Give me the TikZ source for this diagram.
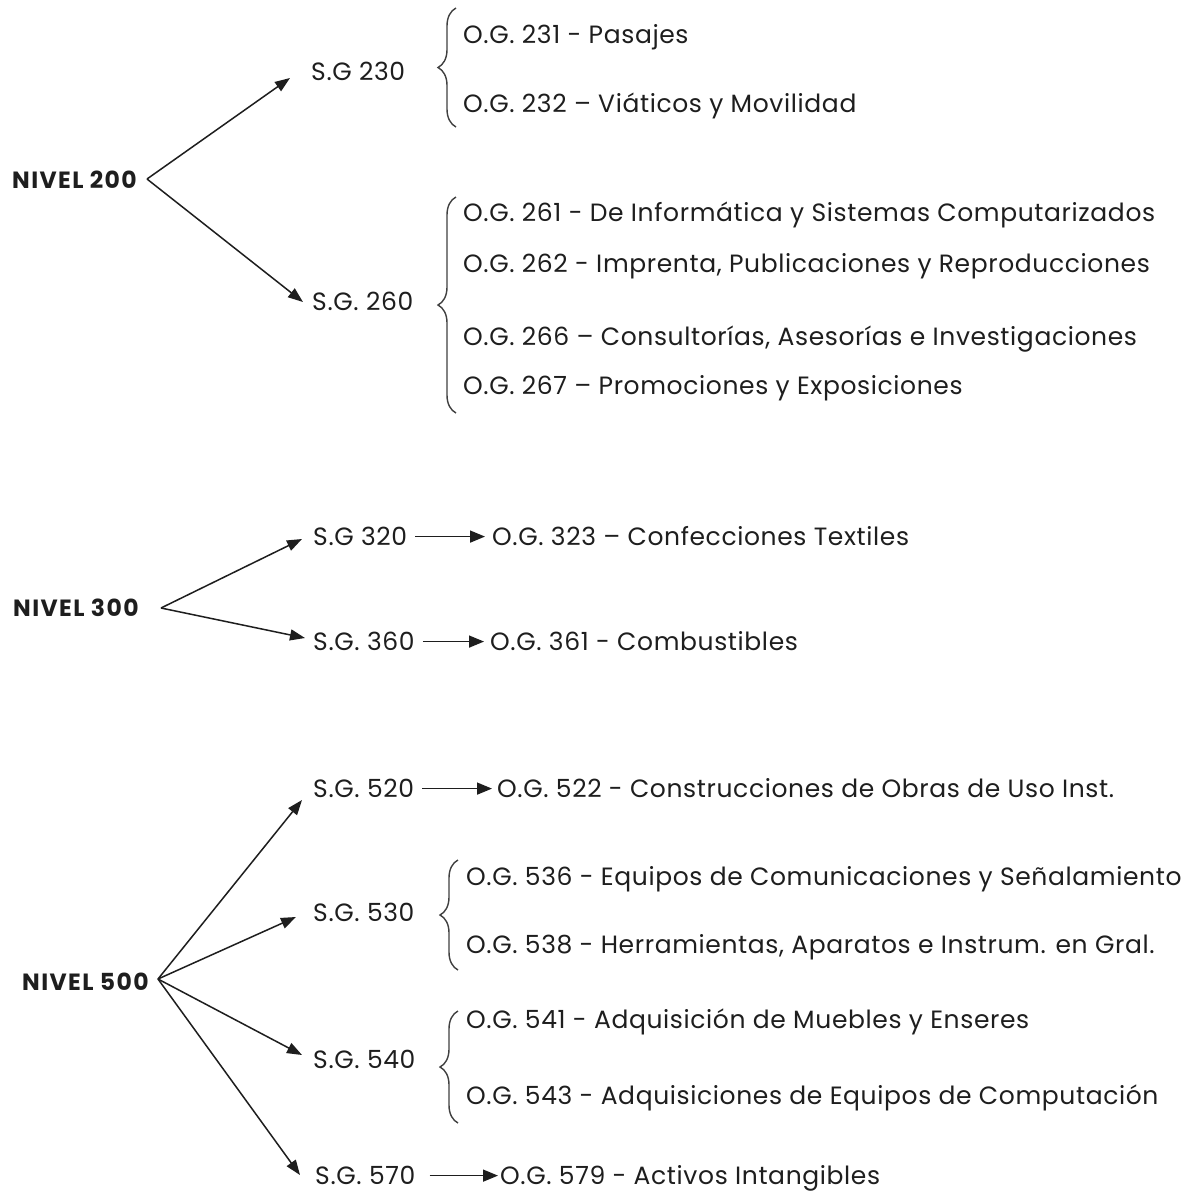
\documentclass[tikz,border=0pt]{standalone}
\usepackage{fontspec}
\setmainfont{Poppins}[LetterSpace=2.5]
\newfontfamily\nivfont{Poppins}[LetterSpace=6]
\usetikzlibrary{arrows.meta,decorations.pathreplacing}
\definecolor{ink}{HTML}{1E1E1E}
\newcommand{\itemfont}{\fontsize{25}{29}\selectfont}
\begin{document}
\begin{tikzpicture}[x=1pt,y=-1pt,
  item/.style={anchor=base west,yshift=-8.7pt,inner sep=0pt,text=ink,font=\itemfont},
  sg/.style={anchor=base west,yshift=-8.7pt,inner sep=0pt,text=ink,font=\itemfont},
  nivel/.style={anchor=base west,yshift=-8.2pt,inner sep=0pt,text=ink,font=\nivfont\bfseries\fontsize{23.5}{27}\selectfont},
  conn/.style={draw=ink,line width=1.5pt,-{Triangle[length=15pt,width=11pt]}},
  hconn/.style={draw=ink,line width=1.5pt,-{Triangle[length=15pt,width=12pt]}},
  brc/.style={draw=ink!85,decorate,decoration={brace,amplitude=18pt},line width=1.4pt}]
\useasboundingbox[fill=white] (0,0) rectangle (1192,1195);

% ---------- NIVEL 200 ----------
\node[nivel] (n200) at (12,180) {NIVEL 200};
\coordinate (o200) at (147,179);
\node[sg] (s230) at (311,72) {S.G 230};
\node[sg] (s260) at (312,302) {S.G. 260};
\coordinate (t230) at (290,78);
\coordinate (t260) at (303,302);
\draw[conn] (o200) -- (t230);
\draw[conn] (o200) -- (t260);

\draw[brc] (456,127) -- (456,8);
\node[item] (g231) at (463,35) {O.G. 231 - Pasajes};
\node[item] (g232) at (463,104) {O.G. 232 – Viáticos y Movilidad};

\draw[brc] (456,413) -- (456,197);
\node[item] (g261) at (463,213) {O.G. 261 - De Informática y Sistemas Computarizados};
\node[item] (g262) at (463,264) {O.G. 262 - Imprenta, Publicaciones y Reproducciones};
\node[item] (g266) at (463,337) {O.G. 266 – Consultorías, Asesorías e Investigaciones};
\node[item] (g267) at (463,386) {O.G. 267 – Promociones y Exposiciones};

% ---------- NIVEL 300 ----------
\node[nivel] (n300) at (13,608) {NIVEL 300};
\coordinate (o300) at (161,608);
\node[sg] (s320) at (313,537) {S.G 320};
\node[sg] (s360) at (313,642) {S.G. 360};
\coordinate (t320) at (302,539);
\coordinate (t360) at (305,638);
\draw[conn] (o300) -- (t320);
\draw[conn] (o300) -- (t360);
\node[item] (g323) at (492,537) {O.G. 323 – Confecciones Textiles};
\node[item] (g361) at (490,642) {O.G. 361 - Combustibles};
\draw[hconn] ([xshift=8pt]s320.east) -- ([xshift=-7pt]s320.east -| g323.west);
\draw[hconn] ([xshift=8pt]s360.east) -- ([xshift=-6pt]s360.east -| g361.west);

% ---------- NIVEL 500 ----------
\node[nivel] (n500) at (22,982) {NIVEL 500};
\coordinate (o500) at (158,979);
\node[sg] (s520) at (313,789) {S.G. 520};
\node[sg] (s530) at (313,913) {S.G. 530};
\node[sg] (s540) at (313,1060) {S.G. 540};
\node[sg] (s570) at (315,1176) {S.G. 570};
\coordinate (t520) at (302,800);
\coordinate (t530) at (296,917);
\coordinate (t540) at (302,1055);
\coordinate (t570) at (300,1175);
\draw[conn] (o500) -- (t520);
\draw[conn] (o500) -- (t530);
\draw[conn] (o500) -- (t540);
\draw[conn] (o500) -- (t570);

\node[item] (g522) at (497,789) {O.G. 522 - Construcciones de Obras de Uso Inst.};
\draw[hconn] ([xshift=8pt]s520.east) -- ([xshift=-5pt]s520.east -| g522.west);

\draw[brc] (458,970) -- (458,860);
\node[item] (g536) at (466,877) {O.G. 536 - Equipos de Comunicaciones y Señalamiento};
\node[item] (g538) at (466,945) {O.G. 538 - Herramientas, Aparatos e Instrum. en Gral.};

\draw[brc] (458,1123) -- (458,1011);
\node[item] (g541) at (466,1020) {O.G. 541 - Adquisición de Muebles y Enseres};
\node[item] (g543) at (466,1096) {O.G. 543 - Adquisiciones de Equipos de Computación};

\node[item] (g579) at (500,1176) {O.G. 579 - Activos Intangibles};
\draw[hconn] ([xshift=14pt]s570.east) -- ([xshift=-2pt]s570.east -| g579.west);
\end{tikzpicture}
\end{document}
